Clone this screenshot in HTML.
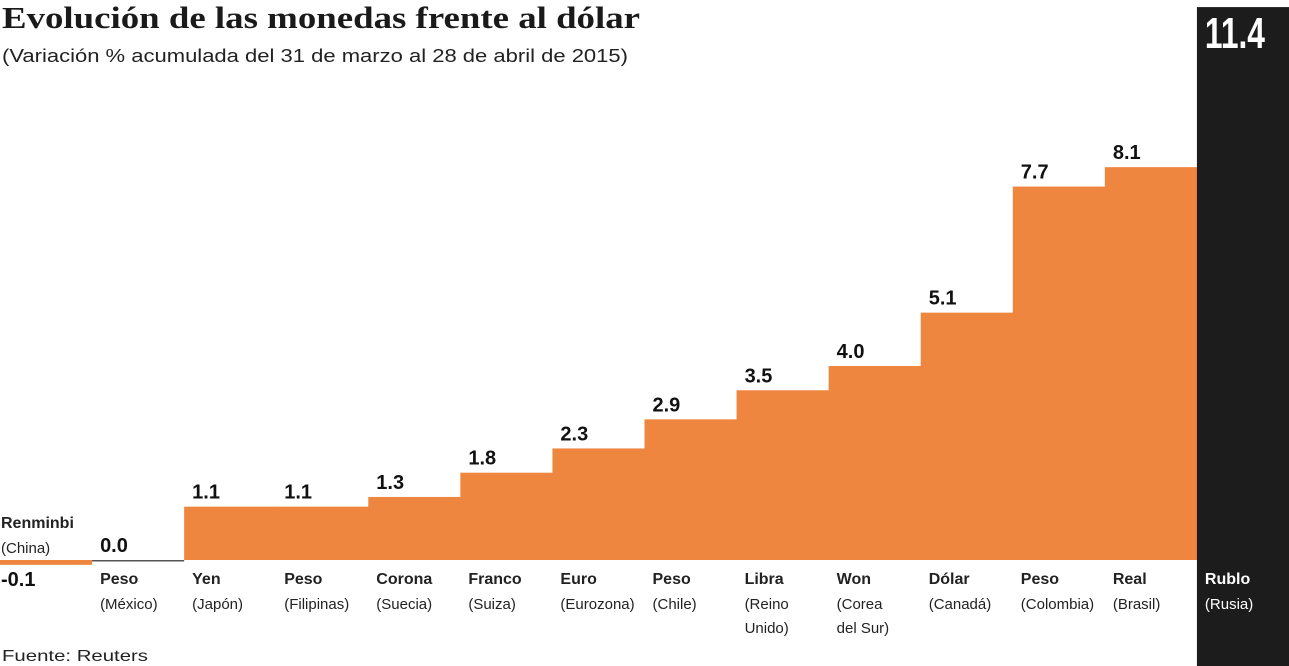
<!DOCTYPE html>
<html><head><meta charset="utf-8">
<style>
html,body{margin:0;padding:0;background:#fff;}
body{width:1289px;height:666px;overflow:hidden;font-family:"Liberation Sans",sans-serif;}
svg{display:block;}
</style></head>
<body>
<svg id="chart" width="1289" height="666" viewBox="0 0 1289 666" xmlns="http://www.w3.org/2000/svg">
  <text x="2" y="28" font-family="Liberation Serif, serif" font-weight="bold" font-size="31" fill="#1a1a1a" textLength="638" lengthAdjust="spacingAndGlyphs">Evolución de las monedas frente al dólar</text>
  <text x="2" y="62" font-size="18" fill="#222" textLength="626" lengthAdjust="spacingAndGlyphs">(Variación % acumulada del 31 de marzo al 28 de abril de 2015)</text>
  <g id="bars"></g>
  <text x="2" y="661" font-size="16" fill="#222" textLength="146" lengthAdjust="spacingAndGlyphs">Fuente: Reuters</text>
</svg>
<script>
const names = ["Renminbi","Peso","Yen","Peso","Corona","Franco","Euro","Peso","Libra","Won","Dólar","Peso","Real","Rublo"];
const countries = [["(China)"],["(México)"],["(Japón)"],["(Filipinas)"],["(Suecia)"],["(Suiza)"],["(Eurozona)"],["(Chile)"],["(Reino","Unido)"],["(Corea","del Sur)"],["(Canadá)"],["(Colombia)"],["(Brasil)"],["(Rusia)"]];
const values = [-0.1,0.0,1.1,1.1,1.3,1.8,2.3,2.9,3.5,4.0,5.1,7.7,8.1,11.4];
const valueLabels = ["-0.1","0.0","1.1","1.1","1.3","1.8","2.3","2.9","3.5","4.0","5.1","7.7","8.1","11.4"];

const NS="http://www.w3.org/2000/svg";
const g=document.getElementById('bars');
const x0=0, bw=1289/values.length, base=560, k=48.5;
const xScale=i=>x0+i*bw;
const yScale=v=>base-v*k;
function mk(tag,attrs,parent){const e=document.createElementNS(NS,tag);for(const a in attrs)e.setAttribute(a,attrs[a]);(parent||g).appendChild(e);return e;}
values.forEach((v,i)=>{
  const x=xScale(i);
  const last=i===values.length-1;
  let r;
  if(last){
    r=mk('rect',{x:x,y:yScale(v),width:bw+1,height:666-yScale(v),fill:'#1c1c1c'});
  } else if(v>0){
    r=mk('rect',{x:x,y:yScale(v),width:bw+0.6,height:base-yScale(v),fill:'#ef8640'});
  } else if(v<0){
    r=mk('rect',{x:x,y:base,width:bw,height:Math.max(3,(yScale(v)-base)),fill:'#ef8640'});
  } else {
    r=mk('rect',{x:x,y:base,width:bw,height:1.5,fill:'#555'});
  }
  
  
  let t;
  if(last){
    t=mk('text',{x:x+8,y:yScale(v)+41,'font-size':44,'font-weight':'bold',fill:'#fff','font-family':'Liberation Sans Narrow, Liberation Sans, sans-serif',textLength:60,lengthAdjust:'spacingAndGlyphs'});
  } else if(v<0){
    t=mk('text',{x:x+1,y:base+26,'font-size':20,'font-weight':'bold',fill:'#111'});
  } else {
    t=mk('text',{x:x+8,y:yScale(v)-8,'font-size':20,'font-weight':'bold',fill:'#111'});
  }
  t.textContent=valueLabels[i];
  
  
  const col=last?'#fff':'#222';
  let lx=x+8, ly=base+24;
  if(i===0){lx=1; ly=base-32;}
  const n=mk('text',{x:lx,y:ly,'font-size':16,'font-weight':'bold',fill:col});
  n.textContent=names[i];
  
  
  countries[i].forEach((c,j)=>{
    const ct=mk('text',{x:lx,y:ly+25+j*24,'font-size':15,fill:col});
    ct.textContent=c;
    
    
  });
});
</script>
</body></html>
